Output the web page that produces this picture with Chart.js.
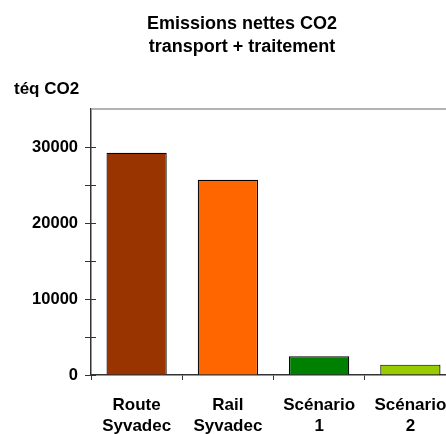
<!DOCTYPE html>
<html>
<head>
<meta charset="utf-8">
<script src="https://cdn.jsdelivr.net/npm/chart.js@4"></script>
<style>
  html, body { margin: 0; padding: 0; background: #fff; overflow: hidden; }
  #wrap { width: 456px; height: 434px; }
</style>
</head>
<body>
<div id="wrap"><canvas id="c" width="456" height="434"></canvas></div>
<script>
const categories = [['Route', 'Syvadec'], ['Rail', 'Syvadec'], ['Scénario', '1'], ['Scénario', '2']];
const values = [29250, 25700, 2460, 1360];
const barColors = ['#993300', '#FF6600', '#008000', '#99CC00'];
const titleLines = ['Emissions nettes CO2', 'transport + traitement'];
const yUnit = 'téq CO2';
const yMin = 0, yMax = 35000, yStep = 5000, yLabelStep = 10000;

const FONT = '"Liberation Sans", Arial, sans-serif';

const decor = {
  id: 'decor',
  afterDraw(chart) {
    const ctx = chart.ctx, ca = chart.chartArea, ys = chart.scales.y;
    ctx.save();
    // top border
    ctx.strokeStyle = '#9a9a9a';
    ctx.lineWidth = 1.5;
    ctx.beginPath();
    ctx.moveTo(ca.left, ca.top);
    ctx.lineTo(ca.right, ca.top);
    ctx.stroke();
    // inner tick marks
    ctx.strokeStyle = '#333';
    ctx.lineWidth = 1;
    ys.ticks.forEach(t => {
      if (t.value >= yMax) return;
      const y = Math.round(ys.getPixelForValue(t.value)) + 0.5;
      ctx.beginPath();
      ctx.moveTo(ca.left, y);
      ctx.lineTo(ca.left + 5, y);
      ctx.stroke();
    });
    // titles
    ctx.fillStyle = '#000';
    ctx.font = 'bold 18px ' + FONT;
    ctx.textAlign = 'center';
    ctx.textBaseline = 'middle';
    ctx.fillText(titleLines[0], 242, 24.5);
    ctx.fillText(titleLines[1], 242, 47);
    ctx.font = 'bold 17px ' + FONT;
    ctx.textAlign = 'left';
    ctx.fillText(yUnit, 14, 89);
    ctx.restore();
  }
};

new Chart(document.getElementById('c'), {
  type: 'bar',
  data: {
    labels: categories,
    datasets: [{
      data: values,
      backgroundColor: barColors,
      borderColor: '#000',
      borderWidth: 1.2,
      categoryPercentage: 1,
      barPercentage: 0.66
    }]
  },
  options: {
    responsive: false,
    animation: false,
    devicePixelRatio: 1,
    layout: { padding: { top: 109, left: 0, right: 0, bottom: 0 } },
    plugins: { legend: { display: false }, title: { display: false }, tooltip: { enabled: false } },
    scales: {
      x: {
        grid: { display: true, drawOnChartArea: false, offset: true, tickLength: 5, color: '#333' },
        border: { display: true, color: '#333', width: 1.5 },
        ticks: { color: '#000', font: { family: FONT, size: 17, weight: 'bold', lineHeight: 1.265 }, padding: 14.5, maxRotation: 0, autoSkip: false },
        afterFit(scale) {
          scale.height = 434 - 375;
          scale.paddingLeft = 0;
          scale.paddingRight = 0;
        }
      },
      y: {
        min: yMin, max: yMax,
        grid: {
          drawOnChartArea: false,
          tickLength: 6,
          tickColor: (c) => (c.tick && c.tick.value >= yMax) ? 'transparent' : '#333'
        },
        border: { display: true, color: '#333', width: 1.5 },
        ticks: {
          stepSize: yStep,
          color: '#000',
          font: { family: FONT, size: 16.5, weight: 'bold' },
          padding: 7,
          callback: (v) => (v % yLabelStep === 0 && v < yMax) ? String(v) : ''
        },
        afterFit(scale) {
          scale.width = 91;
          scale.paddingTop = 0;
          scale.paddingBottom = 0;
        }
      }
    }
  },
  plugins: [decor]
});
</script>
</body>
</html>
